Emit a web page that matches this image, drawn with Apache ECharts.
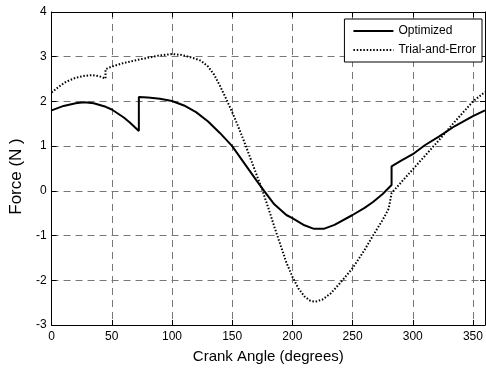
<!DOCTYPE html>
<html>
<head>
<meta charset="utf-8">
<script src="https://cdn.jsdelivr.net/npm/echarts@6/dist/echarts.min.js"></script>
<style>
  html, body { margin: 0; padding: 0; background: #fff; }
  #chart { width: 486px; height: 370px; }
</style>
</head>
<body>
<div id="chart"></div>
<script>
// crank angle (deg) / force (N); repeated angles are the jumps
const optAngle = [0, 10, 20, 27, 35, 45, 50, 60, 65, 72.5, 72.5, 80, 90, 100, 110, 120, 130, 140, 150, 160, 170, 176.5, 185, 195, 200, 210, 218, 226, 235, 250, 260, 267, 275, 282.4, 282.4, 290, 300, 310, 322, 335, 350, 360];
const optForce = [1.80, 1.90, 1.96, 1.98, 1.96, 1.88, 1.82, 1.64, 1.53, 1.34, 2.10, 2.09, 2.06, 2.01, 1.91, 1.76, 1.55, 1.29, 1.00, 0.62, 0.24, 0.00, -0.30, -0.54, -0.61, -0.77, -0.85, -0.85, -0.76, -0.54, -0.38, -0.25, -0.07, 0.13, 0.55, 0.67, 0.82, 1.02, 1.22, 1.45, 1.67, 1.80];

const trialAngle = [0, 6, 12, 20, 27, 34, 40, 44.8, 44.8, 50, 60, 75, 90, 100, 108, 115, 120, 124, 130, 135, 140, 145, 150, 155, 160, 165, 170, 175, 180, 185, 190, 195, 200, 205, 210, 215, 219, 225, 232, 240, 250, 260, 267, 275, 280, 282.4, 290, 300, 310, 320, 335, 350, 360];
const trialForce = [2.20, 2.33, 2.44, 2.53, 2.57, 2.59, 2.56, 2.51, 2.72, 2.78, 2.86, 2.95, 3.03, 3.06, 3.04, 2.99, 2.95, 2.91, 2.78, 2.60, 2.34, 2.06, 1.76, 1.44, 1.10, 0.74, 0.38, 0.02, -0.38, -0.80, -1.20, -1.60, -1.92, -2.18, -2.36, -2.46, -2.48, -2.43, -2.29, -2.05, -1.73, -1.32, -1.00, -0.65, -0.40, -0.05, 0.18, 0.48, 0.78, 1.08, 1.55, 2.00, 2.21];

const seriesNames = ['Optimized', 'Trial-and-Error'];

const font = 'Arial, "Liberation Sans", sans-serif';
const gridDash = { color: '#777', width: 1, type: [7, 5] };

const chart = echarts.init(document.getElementById('chart'));

const pairs = (xs, ys) => xs.map((x, i) => [x, ys[i]]);

// box axes on top/right only carry the inward ticks
const boxX = {
    type: 'value', position: 'top', min: 0, max: 360, interval: 50,
    axisLine: { show: true, onZero: false, lineStyle: { color: '#000', width: 1 } },
    axisTick: { show: true, inside: true, length: 5, lineStyle: { color: '#000' } },
    axisLabel: { show: false }, splitLine: { show: false }
};
const boxY = {
    type: 'value', position: 'right', min: -3, max: 4, interval: 1,
    axisLine: { show: true, onZero: false, lineStyle: { color: '#000', width: 1 } },
    axisTick: { show: true, inside: true, length: 5, lineStyle: { color: '#000' } },
    axisLabel: { show: false }, splitLine: { show: false }
};

chart.setOption({
    animation: false,
    backgroundColor: '#fff',
    textStyle: { fontFamily: font },
    grid: { left: 49, right: 1, top: 12, bottom: 45, containLabel: false },
    legend: {
        data: seriesNames,
        orient: 'vertical', right: 4, top: 19,
        backgroundColor: '#fff', borderColor: '#000', borderWidth: 1,
        padding: [6, 6, 6, 8], itemWidth: 40, itemHeight: 12, itemGap: 7,
        itemStyle: { color: 'rgba(0,0,0,0)', borderWidth: 0, opacity: 0 },
        textStyle: { fontFamily: font, fontSize: 12, color: '#000' }
    },
    xAxis: [{
        type: 'value', min: 0, max: 360, interval: 50,
        name: 'Crank Angle (degrees)', nameLocation: 'middle', nameGap: 24,
        nameTextStyle: { fontFamily: font, fontSize: 15, color: '#000' },
        axisLine: { show: true, onZero: false, lineStyle: { color: '#000', width: 1 } },
        axisTick: { show: true, inside: true, length: 5, lineStyle: { color: '#000' } },
        axisLabel: { fontFamily: font, fontSize: 12, color: '#000', margin: 6 },
        splitLine: { show: true, lineStyle: gridDash }
    }, boxX],
    yAxis: [{
        type: 'value', min: -3, max: 4, interval: 1,
        name: 'Force (N )', nameLocation: 'middle', nameGap: 24,
        nameTextStyle: { fontFamily: font, fontSize: 17, color: '#000', padding: [0, 16, 0, 0] },
        axisLine: { show: true, onZero: false, lineStyle: { color: '#000', width: 1 } },
        axisTick: { show: true, inside: true, length: 5, lineStyle: { color: '#000' } },
        axisLabel: { fontFamily: font, fontSize: 12, color: '#000', margin: 5 },
        splitLine: { show: true, lineStyle: gridDash }
    }, boxY],
    series: [{
        name: seriesNames[0], type: 'line', symbol: 'none', showSymbol: false,
        xAxisIndex: 0, yAxisIndex: 0,
        lineStyle: { color: '#000', width: 2, type: 'solid' },
        itemStyle: { color: '#000' },
        data: pairs(optAngle, optForce)
    }, {
        name: seriesNames[1], type: 'line', symbol: 'none', showSymbol: false,
        xAxisIndex: 0, yAxisIndex: 0,
        lineStyle: { color: '#000', width: 2, type: [1.5, 1.8] },
        itemStyle: { color: '#000' },
        data: pairs(trialAngle, trialForce)
    }]
});

window.addEventListener('resize', () => chart.resize());
</script>
</body>
</html>
